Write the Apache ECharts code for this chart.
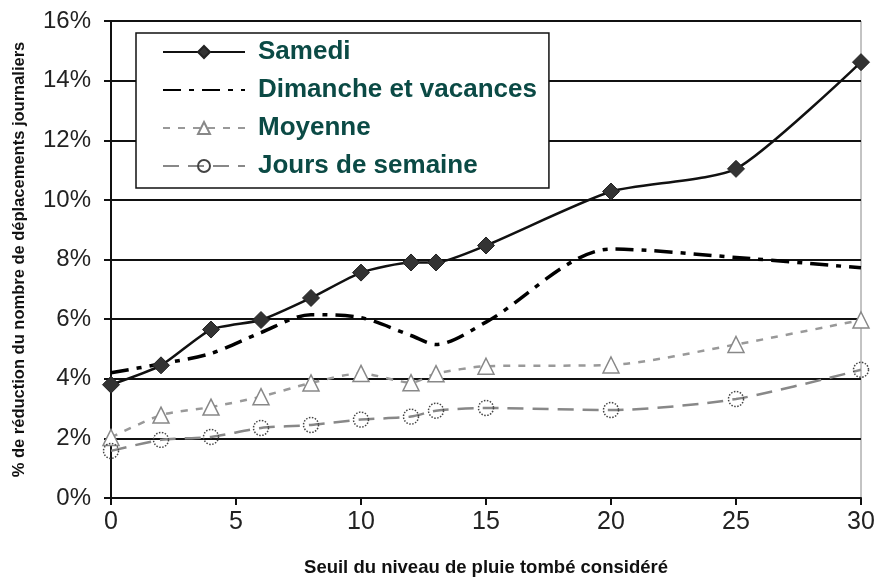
<!DOCTYPE html>
<html><head><meta charset="utf-8">
<script src="https://cdn.jsdelivr.net/npm/echarts@6/dist/echarts.min.js"></script>
<style>html,body{margin:0;padding:0;background:#fff}#c{width:875px;height:584px}</style>
</head><body><div id="c"></div>
<script>
const xValues = [0, 2, 4, 6, 8, 10, 12, 13, 15, 20, 25, 30];
const samedi = [3.8, 4.45, 5.65, 5.97, 6.71, 7.56, 7.9, 7.9, 8.47, 10.28, 11.04, 14.62];
const dimanche = [4.2, 4.5, 4.85, 5.55, 6.15, 6.05, 5.45, 5.15, 5.9, 8.35, 8.07, 7.72];
const moyenne = [2.03, 2.78, 3.05, 3.4, 3.86, 4.18, 3.87, 4.17, 4.42, 4.46, 5.15, 5.97];
const jours = [1.58, 1.95, 2.05, 2.35, 2.45, 2.63, 2.73, 2.93, 3.02, 2.95, 3.32, 4.3];
const seriesNames = ['Samedi', 'Dimanche et vacances', 'Moyenne', 'Jours de semaine'];
const yTicks = {min: 0, max: 16, step: 2};
const xTicks = {min: 0, max: 30, step: 5};

const pairs = arr => xValues.map((x, i) => [x, arr[i]]);
const chart = echarts.init(document.getElementById('c'));
const font = '"Liberation Sans", Arial, sans-serif';
chart.setOption({
  animation: false,
  backgroundColor: '#fff',
  grid: {left: 111, right: 14, top: 21, bottom: 86, show: true, borderColor: '#888', borderWidth: 1,
         containLabel: false, outerBoundsMode: 'none'},
  legend: {
    orient: 'vertical', left: 136, top: 33,
    backgroundColor: '#fff', borderColor: '#111', borderWidth: 1.5,
    padding: [6, 12, 9, 26], itemGap: 12, itemWidth: 82, itemHeight: 15,
    textStyle: {fontFamily: font, fontSize: 26, fontWeight: 'bold', color: '#0b4a45', padding: [0, 0, 0, 8]},
    data: [
      {name: seriesNames[0]},
      {name: seriesNames[1], itemStyle: {opacity: 0}},
      {name: seriesNames[2]},
      {name: seriesNames[3]}
    ]
  },
  xAxis: {
    type: 'value', min: xTicks.min, max: xTicks.max, interval: xTicks.step,
    name: 'Seuil du niveau de pluie tombé considéré', nameLocation: 'middle', nameGap: 60,
    nameTextStyle: {fontFamily: font, fontSize: 18.5, fontWeight: 'bold', color: '#111'},
    axisLine: {lineStyle: {color: '#111', width: 2}},
    axisTick: {show: true, length: 7, lineStyle: {color: '#111', width: 2}},
    axisLabel: {fontFamily: font, fontSize: 25, color: '#222', margin: 12},
    splitLine: {show: false}
  },
  yAxis: {
    type: 'value', min: yTicks.min, max: yTicks.max, interval: yTicks.step,
    name: '% de réduction du nombre de déplacements journaliers', nameLocation: 'middle', nameGap: 83, nameRotate: 90,
    nameTextStyle: {fontFamily: font, fontSize: 16.5, fontWeight: 'bold', color: '#111'},
    axisLine: {show: true, lineStyle: {color: '#111', width: 2}},
    axisTick: {show: true, length: 7, lineStyle: {color: '#111', width: 2}},
    axisLabel: {fontFamily: font, fontSize: 24, color: '#222', margin: 20, formatter: '{value}%'},
    splitLine: {show: true, lineStyle: {color: '#111', width: 2}}
  },
  series: [
    {name: seriesNames[0], type: 'line', smooth: 0.2, data: pairs(samedi), z: 5,
     symbol: 'diamond', symbolSize: 17,
     lineStyle: {color: '#111', width: 2.5}, itemStyle: {color: '#333', borderColor: '#222', borderWidth: 1}},
    {name: seriesNames[1], type: 'line', smooth: 0.3, data: pairs(dimanche), z: 4,
     symbol: 'none',
     lineStyle: {color: '#000', width: 3.5, type: [18, 8, 5, 8]}, itemStyle: {color: '#000'}},
    {name: seriesNames[2], type: 'line', smooth: 0.25, data: pairs(moyenne), z: 3,
     symbol: 'triangle', symbolSize: 16,
     lineStyle: {color: '#999', width: 2.5, type: [7, 8]},
     itemStyle: {color: '#fff', borderColor: '#888', borderWidth: 1.5}},
    {name: seriesNames[3], type: 'line', smooth: 0.25, data: pairs(jours), z: 3,
     symbol: 'circle', symbolSize: 15,
     lineStyle: {color: '#888', width: 2.5, type: [16, 9]},
     itemStyle: {color: 'rgba(255,255,255,0)', borderColor: '#444', borderWidth: 1.5, borderType: 'dotted'}}
  ]
});
</script></body></html>
